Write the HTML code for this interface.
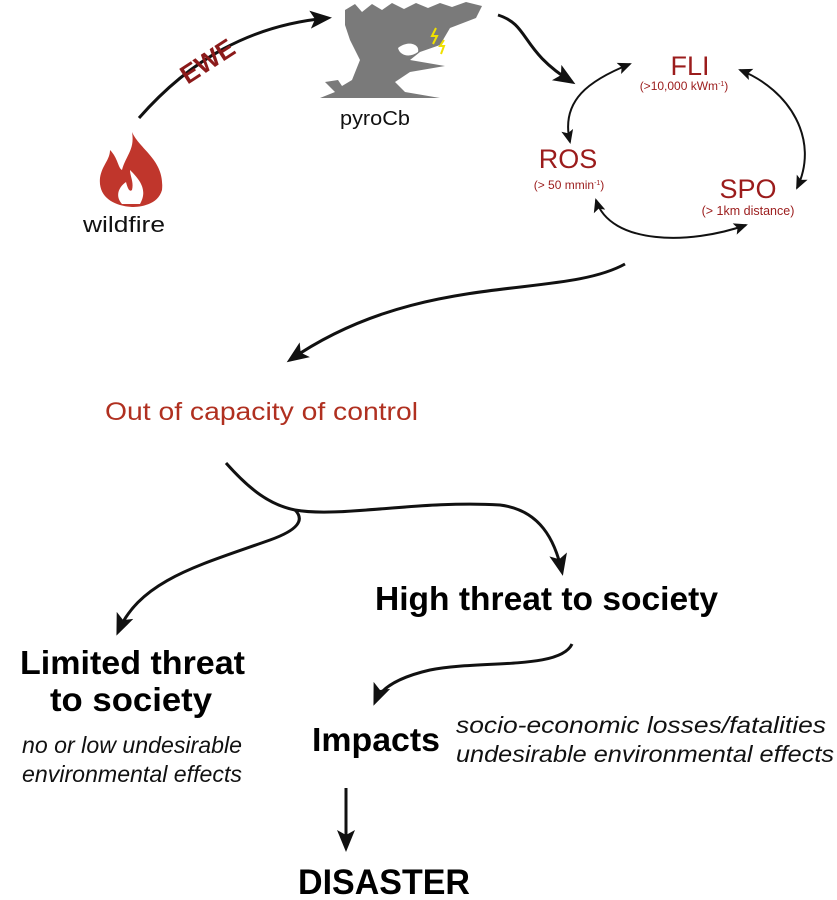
<!DOCTYPE html>
<html><head><meta charset="utf-8"><style>
body{margin:0;background:#fff;}
svg{display:block;font-family:"Liberation Sans",Arial,sans-serif;}
</style></head><body>
<svg width="837" height="900" viewBox="0 0 837 900" xmlns="http://www.w3.org/2000/svg">
<defs>
<marker id="b" markerWidth="22" markerHeight="22" refX="18" refY="11" orient="auto" markerUnits="userSpaceOnUse" viewBox="0 0 22 22">
<path d="M0,2 L22,11 L0,20 L5,11 Z" fill="#111"/></marker>
<marker id="c" markerWidth="14" markerHeight="14" refX="12" refY="7" orient="auto-start-reverse" markerUnits="userSpaceOnUse" viewBox="0 0 14 14">
<path d="M0,1 L14,7 L0,13 L3,7 Z" fill="#111"/></marker>
</defs>
<g fill="none" stroke="#111" stroke-width="3">
<path d="M139,118 C190,60 250,25 328,18" marker-end="url(#b)"/>
<path d="M498,15 C530,25 520,50 572,82" marker-end="url(#b)"/>
<path d="M625,264 C560,300 420,270 290,360" marker-end="url(#b)"/>
<path d="M226,463 C250,490 270,505 295,510 C340,518 420,500 500,505 C540,510 555,540 562,572" marker-end="url(#b)"/>
<path d="M295,510 C305,520 298,530 270,540 C200,565 140,580 118,632" marker-end="url(#b)"/>
<path d="M572,644 C560,670 480,660 430,670 C395,678 380,690 375,702" marker-end="url(#b)"/>
<path d="M346,788 L346,848" marker-end="url(#b)"/>
</g>
<g fill="none" stroke="#111" stroke-width="2">
<path d="M630,64 C590,80 560,100 570,142" marker-end="url(#c)" marker-start="url(#c)"/>
<path d="M740,70 C790,90 820,140 797,188" marker-end="url(#c)" marker-start="url(#c)"/>
<path d="M596,200 C610,245 690,245 746,225" marker-end="url(#c)" marker-start="url(#c)"/>
</g>
<path d="M345,10 L355,4 L362,12 L372,4 L382,10 L392,3 L404,9 L416,3 L428,8 L440,3 L452,7 L466,2 L482,6 L476,18 L450,28 L440,45 L420,52 L410,60 L445,66 L410,72 L395,82 L405,92 L440,98 L320,98 L335,92 L325,82 L338,80 L342,86 L352,80 L360,60 L350,40 L345,25 Z" fill="#7a7a7a"/>
<path d="M398,48 C408,40 420,44 418,52 C410,58 400,56 398,48Z" fill="#fff"/>
<path d="M436,28 L432,36 L437,36 L433,44" stroke="#f0e000" stroke-width="2" fill="none"/>
<path d="M444,40 L440,46 L444,46 L441,54" stroke="#f0e000" stroke-width="2" fill="none"/>
<path d="M132,132 C140,150 165,160 162,190 C158,205 140,207 132,207 C115,206 98,198 100,178 C102,165 110,160 110,150 C118,158 118,168 122,170 C126,155 135,150 132,132Z" fill="#c0362c"/>
<path d="M130,170 C140,180 148,190 140,204 L122,204 C114,195 120,186 126,182 C128,190 130,192 132,190 C134,182 130,176 130,170Z" fill="#fff"/>
<text x="83" y="232" font-size="22" textLength="82" lengthAdjust="spacingAndGlyphs" fill="#111">wildfire</text>
<text x="340" y="125" font-size="20" textLength="70" lengthAdjust="spacingAndGlyphs" fill="#111">pyroCb</text>
<text x="208" y="70" font-size="26" font-weight="bold" fill="#8b1a1a" text-anchor="middle" transform="rotate(-33 208 62)">EWE</text>
<g fill="#9b1c1c" text-anchor="middle">
<text x="690" y="75" font-size="27">FLI</text>
<text x="684" y="90" font-size="12">(&gt;10,000 kWm<tspan font-size="7" dy="-4">-1</tspan><tspan dy="4">)</tspan></text>
<text x="568" y="168" font-size="27">ROS</text>
<text x="569" y="189" font-size="12">(&gt; 50 mmin<tspan font-size="7" dy="-4">-1</tspan><tspan dy="4">)</tspan></text>
<text x="748" y="198" font-size="27">SPO</text>
<text x="748" y="215" font-size="12.5">(&gt; 1km distance)</text>
</g>
<text x="105" y="420" font-size="25" textLength="313" lengthAdjust="spacingAndGlyphs" fill="#b03020">Out of capacity of control</text>
<g fill="#000" font-weight="bold" font-size="33">
<text x="375" y="610" textLength="343" lengthAdjust="spacingAndGlyphs">High threat to society</text>
<text x="20" y="674" textLength="225" lengthAdjust="spacingAndGlyphs">Limited threat</text>
<text x="50" y="711" textLength="162" lengthAdjust="spacingAndGlyphs">to society</text>
<text x="312" y="751" textLength="128" lengthAdjust="spacingAndGlyphs">Impacts</text>
<text x="298" y="894" font-size="35" textLength="172" lengthAdjust="spacingAndGlyphs">DISASTER</text>
</g>
<g fill="#111" font-style="italic" font-size="23">
<text x="22" y="753" textLength="220" lengthAdjust="spacingAndGlyphs">no or low undesirable</text>
<text x="22" y="782" textLength="220" lengthAdjust="spacingAndGlyphs">environmental effects</text>
<text x="456" y="733" textLength="370" lengthAdjust="spacingAndGlyphs">socio-economic losses/fatalities</text>
<text x="456" y="762" textLength="378" lengthAdjust="spacingAndGlyphs">undesirable environmental effects</text>
</g>
</svg>
</body></html>
